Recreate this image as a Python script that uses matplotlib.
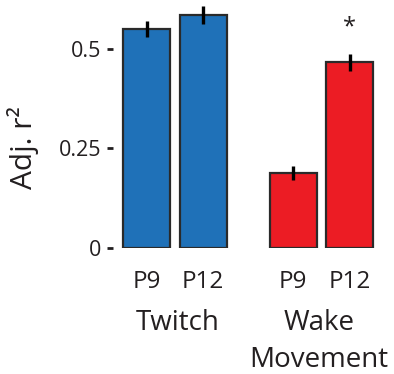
import matplotlib
matplotlib.use("Agg")
import matplotlib.pyplot as plt

plt.rcParams['font.family'] = ['Open Sans', 'DejaVu Sans']

ages = ["P9", "P12", "P9", "P12"]
groups = ["Twitch", "Wake\nMovement"]
values = [0.549, 0.585, 0.189, 0.466]
errors = [0.020, 0.022, 0.018, 0.022]
positions = [0.0, 1.0, 2.59, 3.59]
colors = ["#1f71b8", "#1f71b8", "#ec1c24", "#ec1c24"]
yticks = [0, 0.25, 0.5]
yticklabels = ["0", "0.25", "0.5"]

W, H = 394, 374
fig = plt.figure(figsize=(W / 100, H / 100), dpi=100)
ax_left, ax_right = 113, 381
ax_bottom_px, ax_top_px = 248, 1
ax_h = ax_bottom_px - ax_top_px
ax = fig.add_axes([ax_left / W, 1 - ax_bottom_px / H,
                   (ax_right - ax_left) / W, ax_h / H])

txt = "#231f20"
ax.bar(positions, values, width=0.83, color=colors, edgecolor="#2a2a2a",
       linewidth=1.6, zorder=2)
ax.errorbar(positions, values, yerr=errors, fmt="none", ecolor="black",
            elinewidth=2.4, capsize=0, zorder=3)

ax.set_ylim(0, 0.62)
ax.set_xlim(-0.593, 4.14)
ax.set_yticks(yticks)
ax.set_yticklabels(yticklabels)
ax.set_xticks(positions)
ax.set_xticklabels(ages)
for s in ax.spines.values():
    s.set_visible(False)
ax.tick_params(axis='y', length=4.5, width=2, color=txt, pad=4,
               labelsize=15.5, labelcolor=txt)
ax.tick_params(axis='x', length=0, pad=16, labelsize=17.5, labelcolor=txt)
ax.set_ylabel("Adj. r²", fontsize=21.5, color=txt, va='center')
ax.yaxis.set_label_coords(-0.336, 0.405)

# significance asterisk
ax.text(positions[3], values[3] + errors[3] + 0.065, "*", ha='center',
        va='center', fontsize=17, color=txt)

# group labels
trans = ax.get_xaxis_transform()
centers = [(positions[0] + positions[1]) / 2 + 0.05,
           (positions[2] + positions[3]) / 2 - 0.05]
for c, g in zip(centers, groups):
    for i, line in enumerate(g.split("\n")):
        ax.text(c, -(82 + 37 * i) / ax_h, line, transform=trans, ha='center',
                va='baseline', fontsize=20, color=txt)

fig.savefig("out.png", dpi=100)
